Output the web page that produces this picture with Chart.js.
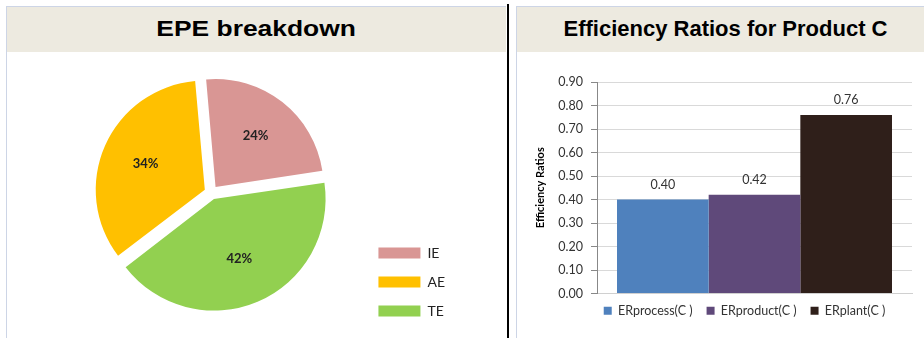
<!DOCTYPE html>
<html>
<head>
<meta charset="utf-8">
<title>EPE breakdown / Efficiency Ratios</title>
<script src="https://cdn.jsdelivr.net/npm/chart.js@4.4.1/dist/chart.umd.min.js"></script>
<style>
  body { margin: 0; width: 924px; height: 338px; overflow: hidden; background: #fff; position: relative; }
  .panel { position: absolute; top: 6px; height: 340px; background: #fff;
           border-left: 1px solid #cdd5e6; border-top: 1px solid #cdd5e6; }
  #left { left: 6px; width: 499px; }
  #right { left: 516px; width: 408px; }
  .title { height: 45px; background: #edeae0; color: #000; text-align: center;
           font: bold 22px "Liberation Sans", Arial, sans-serif; line-height: 43px; white-space: nowrap; }
  .title span { display: inline-block; }
  #left .title span { transform: scaleX(1.2); }
  #right .title { padding-left: 9px; box-sizing: border-box; }
  #divider { position: absolute; left: 507px; top: 4px; width: 2px; height: 334px; background: #000; }
  canvas { display: block; }
</style>
</head>
<body>
<div class="panel" id="left">
  <div class="title"><span>EPE breakdown</span></div>
  <canvas id="pieChart" width="499" height="286"></canvas>
</div>
<div id="divider"></div>
<div class="panel" id="right">
  <div class="title"><span>Efficiency Ratios for Product C</span></div>
  <canvas id="barChart" width="407" height="286"></canvas>
</div>
<script>
// EPE shares, listed clockwise from the top of the pie
const epeParts = ["IE", "TE", "AE"];
const epeShares = [24, 42, 34];
const epeColors = ["#D99694", "#92D050", "#FFC000"];
const legendOrder = ["IE", "AE", "TE"];

// efficiency ratios for product C
const ratioNames = ["ERprocess(C )", "ERproduct(C )", "ERplant(C )"];
const ratioValues = [0.40, 0.42, 0.76];
const ratioColors = ["#4F81BD", "#5F497A", "#2F1F1A"];
const yTicks = [0, 0.1, 0.2, 0.3, 0.4, 0.5, 0.6, 0.7, 0.8, 0.9];

Chart.defaults.font.family = "Lato, 'Open Sans', sans-serif";
Chart.defaults.color = "#333";

// percent text inside each slice
const sliceLabels = {
  id: "sliceLabels",
  afterDatasetsDraw(chart) {
    const ctx = chart.ctx;
    const meta = chart.getDatasetMeta(0);
    ctx.save();
    ctx.font = "bold 13px Lato";
    ctx.fillStyle = "#222";
    ctx.textAlign = "center";
    ctx.textBaseline = "middle";
    meta.data.forEach((arc, i) => {
      const p = arc.getProps(["x", "y", "startAngle", "endAngle", "outerRadius"], true);
      const mid = (p.startAngle + p.endAngle) / 2;
      // arcs are drawn shifted by a quarter of their offset option
      const r = arc.options.offset / 4 + p.outerRadius * 0.6;
      ctx.fillText(epeShares[i] + "%", p.x + Math.cos(mid) * r, p.y + Math.sin(mid) * r);
    });
    ctx.restore();
  },
};

new Chart(document.getElementById("pieChart"), {
  type: "pie",
  data: {
    labels: epeParts,
    datasets: [
      {
        data: epeShares,
        backgroundColor: epeColors,
        borderWidth: 0,
        offset: 28,
      },
    ],
  },
  options: {
    responsive: false,
    animation: false,
    rotation: -5,
    radius: 108,
    layout: { padding: { left: 52, right: 51, top: -4, bottom: 5 } },
    plugins: {
      tooltip: { enabled: false },
      legend: {
        position: "right",
        align: "end",
        labels: {
          boxWidth: 42,
          boxHeight: 11,
          padding: 15,
          color: "#222",
          font: { size: 14 },
          sort: (a, b) => legendOrder.indexOf(a.text) - legendOrder.indexOf(b.text),
        },
      },
    },
  },
  plugins: [sliceLabels],
});

// value above each bar
const barValues = {
  id: "barValues",
  afterDatasetsDraw(chart) {
    const ctx = chart.ctx;
    ctx.save();
    ctx.font = "12.5px Lato";
    ctx.fillStyle = "#333";
    ctx.textAlign = "center";
    ctx.textBaseline = "middle";
    chart.data.datasets.forEach((ds, i) => {
      chart.getDatasetMeta(i).data.forEach((bar, j) => {
        ctx.fillText(ds.data[j].toFixed(2), bar.x, bar.y - 15);
      });
    });
    ctx.restore();
  },
};

// push the legend row under the bars instead of the whole canvas
const legendNudge = {
  id: "legendNudge",
  afterLayout(chart) {
    const lg = chart.legend;
    lg.left += 30;
    lg.right += 30;
    lg.top -= 3;
    lg.bottom -= 3;
  },
};

new Chart(document.getElementById("barChart"), {
  type: "bar",
  data: {
    labels: ["Product C"],
    datasets: ratioNames.map((name, i) => ({
      label: name,
      data: [ratioValues[i]],
      backgroundColor: ratioColors[i],
      categoryPercentage: 0.873,
      barPercentage: 1,
    })),
  },
  options: {
    responsive: false,
    animation: false,
    layout: { padding: { left: 0, right: 12, top: 30, bottom: 8 } },
    scales: {
      x: {
        grid: { display: false, drawTicks: false },
        ticks: { display: false },
        border: { color: "#D0D0D0" },
      },
      y: {
        min: 0,
        max: 0.9,
        afterBuildTicks: (axis) => {
          axis.ticks = yTicks.map((v) => ({ value: v }));
        },
        afterFit: (axis) => {
          axis.width = 80;
        },
        ticks: {
          callback: (v) => v.toFixed(2),
          color: "#333",
          font: { size: 12.5 },
          padding: 8,
        },
        grid: { color: "#D9D9D9", tickLength: 6, tickColor: "#888" },
        border: { color: "#888" },
        title: {
          display: true,
          text: "Efficiency Ratios",
          color: "#000",
          font: { size: 11, weight: "bold" },
          padding: { top: 17, bottom: 0 },
        },
      },
    },
    plugins: {
      tooltip: { enabled: false },
      legend: {
        position: "bottom",
        maxHeight: 46,
        labels: {
          boxWidth: 8,
          boxHeight: 8,
          padding: 14,
          color: "#333",
          font: { size: 12.5 },
        },
      },
    },
  },
  plugins: [barValues, legendNudge],
});
</script>
</body>
</html>
